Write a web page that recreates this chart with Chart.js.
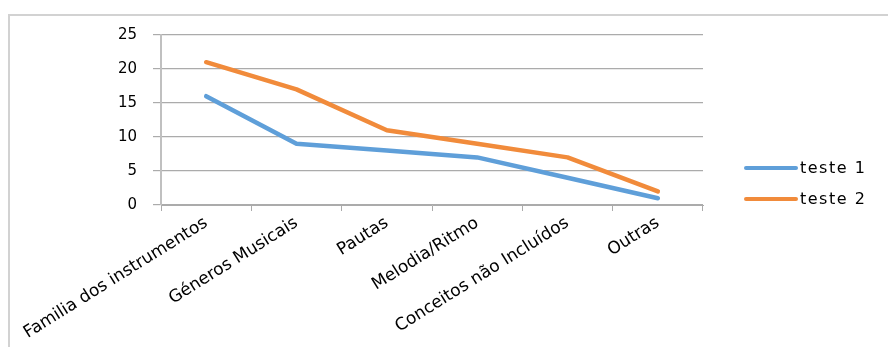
<!DOCTYPE html>
<html>
<head>
<meta charset="utf-8">
<script src="https://cdn.jsdelivr.net/npm/chart.js@4/dist/chart.umd.min.js"></script>
<style>
  html, body { margin: 0; padding: 0; background: #fff; }
  #frame {
    position: absolute; left: 8px; top: 14px; width: 900px; height: 400px;
    border-top: 2px solid #d2d2d2; border-left: 2px solid #d2d2d2;
  }
  #box { position: absolute; left: 0; top: 0; width: 888px; height: 347px; }
</style>
</head>
<body>
<div id="frame"></div>
<div id="box"><canvas id="chart" width="888" height="347"></canvas></div>
<script>
const categories = ["Familia dos instrumentos", "Géneros Musicais", "Pautas", "Melodia/Ritmo", "Conceitos não Incluídos", "Outras"];
const teste1 = [16, 9, 8, 7, 4, 1];
const teste2 = [21, 17, 11, 9, 7, 2];
const yTicks = [0, 5, 10, 15, 20, 25];

const gridColor = "#ababab";

// legend drawn by hand so it can sit where the original puts it
const sideLegend = {
  id: "sideLegend",
  afterDraw(chart) {
    const ctx = chart.ctx;
    const rows = [168, 199];
    chart.data.datasets.forEach((ds, i) => {
      const y = rows[i];
      ctx.save();
      ctx.strokeStyle = ds.borderColor;
      ctx.lineWidth = 4;
      ctx.lineCap = "round";
      ctx.beginPath();
      ctx.moveTo(746, y);
      ctx.lineTo(796, y);
      ctx.stroke();
      ctx.fillStyle = "#000";
      ctx.font = "16px 'DejaVu Sans'";
      ctx.letterSpacing = "1.5px";
      ctx.textBaseline = "middle";
      ctx.fillText(ds.label, 800, y + 1);
      ctx.restore();
    });
  },
};

const ctx = document.getElementById("chart").getContext("2d");
new Chart(ctx, {
  type: "line",
  data: {
    labels: categories,
    datasets: [
      {
        label: "teste 1",
        data: teste1,
        borderColor: "#5f9fd9",
        borderWidth: 4.5,
        borderCapStyle: "round",
        borderJoinStyle: "round",
        pointRadius: 0,
        tension: 0,
      },
      {
        label: "teste 2",
        data: teste2,
        borderColor: "#f18b3b",
        borderWidth: 4.5,
        borderCapStyle: "round",
        borderJoinStyle: "round",
        pointRadius: 0,
        tension: 0,
      },
    ],
  },
  options: {
    responsive: false,
    animation: false,
    layout: { padding: { left: 0, top: 35, right: 185, bottom: 0 } },
    plugins: {
      legend: { display: false },
      tooltip: { enabled: false },
    },
    scales: {
      x: {
        offset: true,
        grid: {
          offset: true,
          drawOnChartArea: false,
          drawTicks: true,
          tickLength: 6,
          color: gridColor,
        },
        border: { display: true, color: gridColor, width: 1 },
        ticks: {
          autoSkip: false,
          minRotation: 32,
          maxRotation: 32,
          padding: 2,
          color: "#000",
          font: { family: "'DejaVu Sans'", size: 17 },
        },
        afterFit(scale) { scale.height = 142; },
      },
      y: {
        min: 0,
        max: 25,
        afterBuildTicks(scale) { scale.ticks = yTicks.map(v => ({ value: v })); },
        grid: { color: gridColor, tickLength: 8, lineWidth: 1.2 },
        border: { display: true, color: "#c0c0c0", width: 2 },
        ticks: {
          padding: 16,
          color: "#000",
          font: { family: "'DejaVu Sans'", size: 15 },
        },
        afterFit(scale) { scale.width = 161; },
      },
    },
  },
  plugins: [sideLegend],
});
</script>
</body>
</html>
